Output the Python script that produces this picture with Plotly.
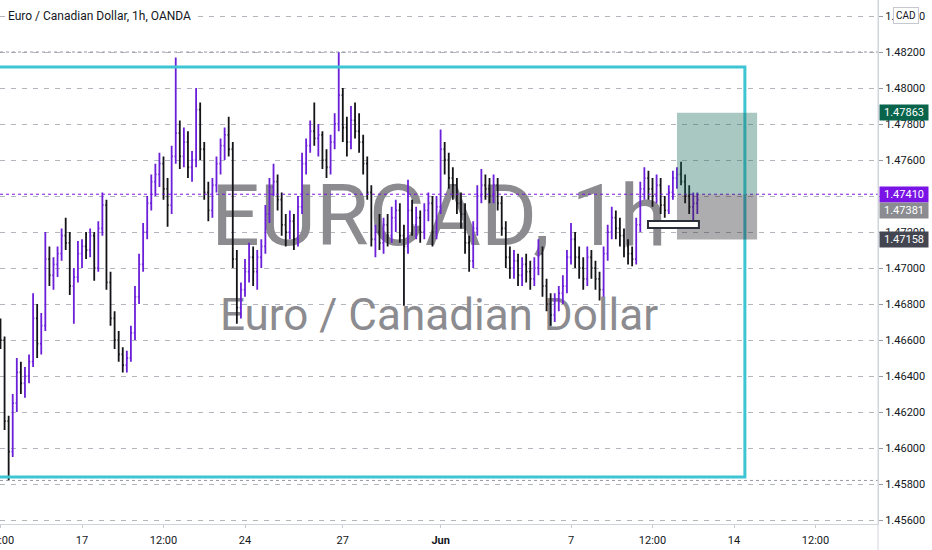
import numpy as np
import pandas as pd
import plotly.graph_objects as go

# EUR/CAD 3-hour bars (Wed 12 May 12:00 onwards)
opens = [
    1.4668, 1.4660, 1.4615, 1.4598, 1.4625, 1.4642, 1.4636, 1.4640, 1.4648, 1.4672,
    1.4658, 1.4668, 1.4705, 1.4696, 1.4702, 1.4708, 1.4718, 1.4714, 1.4690, 1.4695,
    1.4708, 1.4712, 1.4710, 1.4718, 1.4700, 1.4722, 1.4735, 1.4692, 1.4672, 1.4660,
    1.4652, 1.4646, 1.4650, 1.4664, 1.4684, 1.4702, 1.4720, 1.4736, 1.4748, 1.4752,
    1.4758, 1.4744, 1.4735, 1.4762, 1.4775, 1.4762, 1.4770, 1.4756, 1.4760, 1.4788,
    1.4766, 1.4742, 1.4732, 1.4746, 1.4758, 1.4768, 1.4774, 1.4766, 1.4705, 1.4678,
    1.4688, 1.4698, 1.4706, 1.4698, 1.4706, 1.4712, 1.4730, 1.4745, 1.4748, 1.4738,
    1.4724, 1.4720, 1.4726, 1.4716, 1.4734, 1.4758, 1.4768, 1.4776, 1.4772, 1.4774,
    1.4760, 1.4756, 1.4770, 1.4780, 1.4796, 1.4778, 1.4770, 1.4782, 1.4776, 1.4770,
    1.4758, 1.4742, 1.4716, 1.4720, 1.4714, 1.4724, 1.4718, 1.4728, 1.4732, 1.4718,
    1.4712, 1.4732, 1.4724, 1.4728, 1.4720, 1.4732, 1.4736, 1.4720, 1.4734, 1.4766,
    1.4760, 1.4750, 1.4746, 1.4736, 1.4730, 1.4714, 1.4704, 1.4722, 1.4740, 1.4746,
    1.4744, 1.4740, 1.4746, 1.4736, 1.4722, 1.4706, 1.4700, 1.4704, 1.4696, 1.4702,
    1.4698, 1.4694, 1.4700, 1.4708, 1.4690, 1.4680, 1.4674, 1.4682, 1.4686, 1.4690,
    1.4706, 1.4716, 1.4706, 1.4700, 1.4694, 1.4706, 1.4700, 1.4694, 1.4688, 1.4708,
    1.4720, 1.4728, 1.4722, 1.4718, 1.4712, 1.4708, 1.4705, 1.4724, 1.4744, 1.4750,
    1.4744, 1.4740, 1.4746, 1.4735, 1.4732, 1.4742, 1.4750, 1.4752, 1.4748, 1.4740,
    1.4734, 1.4736,
]
highs = [
    1.4672, 1.4662, 1.4618, 1.4630, 1.4650, 1.4648, 1.4645, 1.4652, 1.4686, 1.4680,
    1.4675, 1.4720, 1.4712, 1.4706, 1.4712, 1.4722, 1.4728, 1.4720, 1.4700, 1.4715,
    1.4716, 1.4720, 1.4722, 1.4720, 1.4726, 1.4742, 1.4738, 1.4698, 1.4676, 1.4665,
    1.4656, 1.4654, 1.4668, 1.4690, 1.4708, 1.4725, 1.4740, 1.4752, 1.4758, 1.4764,
    1.4762, 1.4750, 1.4768, 1.4817, 1.4782, 1.4778, 1.4776, 1.4765, 1.4800, 1.4792,
    1.4770, 1.4748, 1.4750, 1.4762, 1.4772, 1.4778, 1.4784, 1.4770, 1.4710, 1.4692,
    1.4705, 1.4714, 1.4712, 1.4710, 1.4716, 1.4735, 1.4750, 1.4758, 1.4752, 1.4742,
    1.4730, 1.4732, 1.4730, 1.4740, 1.4764, 1.4772, 1.4782, 1.4792, 1.4780, 1.4776,
    1.4766, 1.4774, 1.4786, 1.4820, 1.4800, 1.4784, 1.4790, 1.4792, 1.4786, 1.4774,
    1.4762, 1.4746, 1.4724, 1.4730, 1.4728, 1.4730, 1.4734, 1.4738, 1.4736, 1.4724,
    1.4749, 1.4738, 1.4734, 1.4732, 1.4736, 1.4742, 1.4740, 1.4740, 1.4777, 1.4770,
    1.4764, 1.4756, 1.4750, 1.4742, 1.4736, 1.4718, 1.4726, 1.4746, 1.4755, 1.4752,
    1.4750, 1.4752, 1.4750, 1.4740, 1.4726, 1.4712, 1.4710, 1.4708, 1.4706, 1.4708,
    1.4704, 1.4706, 1.4716, 1.4712, 1.4694, 1.4686, 1.4686, 1.4690, 1.4696, 1.4710,
    1.4725, 1.4720, 1.4712, 1.4706, 1.4712, 1.4710, 1.4704, 1.4698, 1.4712, 1.4724,
    1.4734, 1.4732, 1.4728, 1.4722, 1.4716, 1.4712, 1.4728, 1.4748, 1.4756, 1.4754,
    1.4750, 1.4752, 1.4750, 1.4740, 1.4746, 1.4754, 1.4756, 1.4759, 1.4752, 1.4746,
    1.4742, 1.4742,
]
lows = [
    1.4655, 1.4610, 1.4582, 1.4595, 1.4620, 1.4630, 1.4628, 1.4636, 1.4645, 1.4650,
    1.4652, 1.4665, 1.4690, 1.4688, 1.4695, 1.4704, 1.4710, 1.4685, 1.4669, 1.4692,
    1.4700, 1.4705, 1.4706, 1.4693, 1.4698, 1.4718, 1.4688, 1.4668, 1.4655, 1.4648,
    1.4642, 1.4642, 1.4648, 1.4660, 1.4680, 1.4698, 1.4716, 1.4732, 1.4740, 1.4745,
    1.4738, 1.4723, 1.4730, 1.4758, 1.4755, 1.4756, 1.4750, 1.4748, 1.4756, 1.4760,
    1.4738, 1.4726, 1.4728, 1.4742, 1.4752, 1.4760, 1.4762, 1.4700, 1.4669, 1.4672,
    1.4684, 1.4692, 1.4690, 1.4688, 1.4700, 1.4708, 1.4725, 1.4740, 1.4732, 1.4718,
    1.4712, 1.4716, 1.4710, 1.4712, 1.4730, 1.4752, 1.4764, 1.4768, 1.4762, 1.4755,
    1.4750, 1.4752, 1.4766, 1.4776, 1.4770, 1.4762, 1.4766, 1.4772, 1.4764, 1.4752,
    1.4738, 1.4712, 1.4706, 1.4710, 1.4708, 1.4712, 1.4714, 1.4720, 1.4714, 1.4679,
    1.4708, 1.4718, 1.4716, 1.4714, 1.4716, 1.4726, 1.4712, 1.4716, 1.4730, 1.4752,
    1.4744, 1.4738, 1.4730, 1.4722, 1.4708, 1.4698, 1.4700, 1.4718, 1.4736, 1.4738,
    1.4736, 1.4736, 1.4732, 1.4718, 1.4700, 1.4694, 1.4694, 1.4690, 1.4690, 1.4692,
    1.4688, 1.4690, 1.4696, 1.4684, 1.4676, 1.4668, 1.4670, 1.4676, 1.4680, 1.4686,
    1.4702, 1.4700, 1.4694, 1.4688, 1.4690, 1.4694, 1.4688, 1.4682, 1.4684, 1.4704,
    1.4716, 1.4716, 1.4712, 1.4706, 1.4702, 1.4701, 1.4702, 1.4720, 1.4738, 1.4738,
    1.4734, 1.4736, 1.4730, 1.4728, 1.4730, 1.4738, 1.4744, 1.4746, 1.4736, 1.4730,
    1.4726, 1.4730,
]
closes = [
    1.4660, 1.4615, 1.4598, 1.4625, 1.4642, 1.4636, 1.4640, 1.4648, 1.4672, 1.4658,
    1.4668, 1.4705, 1.4696, 1.4702, 1.4708, 1.4718, 1.4714, 1.4690, 1.4695, 1.4708,
    1.4712, 1.4710, 1.4718, 1.4700, 1.4722, 1.4735, 1.4692, 1.4672, 1.4660, 1.4652,
    1.4646, 1.4650, 1.4664, 1.4684, 1.4702, 1.4720, 1.4736, 1.4748, 1.4752, 1.4758,
    1.4744, 1.4735, 1.4762, 1.4775, 1.4762, 1.4770, 1.4756, 1.4760, 1.4788, 1.4766,
    1.4742, 1.4732, 1.4746, 1.4758, 1.4768, 1.4774, 1.4766, 1.4705, 1.4678, 1.4688,
    1.4698, 1.4706, 1.4698, 1.4706, 1.4712, 1.4730, 1.4745, 1.4748, 1.4738, 1.4724,
    1.4720, 1.4726, 1.4716, 1.4734, 1.4758, 1.4768, 1.4776, 1.4772, 1.4774, 1.4760,
    1.4756, 1.4770, 1.4780, 1.4796, 1.4778, 1.4770, 1.4782, 1.4776, 1.4770, 1.4758,
    1.4742, 1.4716, 1.4720, 1.4714, 1.4724, 1.4718, 1.4728, 1.4732, 1.4718, 1.4712,
    1.4732, 1.4724, 1.4728, 1.4720, 1.4732, 1.4736, 1.4720, 1.4734, 1.4766, 1.4760,
    1.4750, 1.4746, 1.4736, 1.4730, 1.4714, 1.4704, 1.4722, 1.4740, 1.4746, 1.4744,
    1.4740, 1.4746, 1.4736, 1.4722, 1.4706, 1.4700, 1.4704, 1.4696, 1.4702, 1.4698,
    1.4694, 1.4700, 1.4708, 1.4690, 1.4680, 1.4674, 1.4682, 1.4686, 1.4690, 1.4706,
    1.4716, 1.4706, 1.4700, 1.4694, 1.4706, 1.4700, 1.4694, 1.4688, 1.4708, 1.4720,
    1.4728, 1.4722, 1.4718, 1.4712, 1.4708, 1.4705, 1.4724, 1.4744, 1.4750, 1.4744,
    1.4740, 1.4746, 1.4735, 1.4732, 1.4742, 1.4750, 1.4752, 1.4748, 1.4740, 1.4734,
    1.4736, 1.4738,
]

START = pd.Timestamp("2021-05-12 12:00")

# bar times: every 3 hours, weekends skipped
times = pd.date_range(START, "2021-06-12", freq="3h")
times = times[times.dayofweek < 5][:len(closes)]

tick_dates = ["2021-05-12 12:00", "2021-05-17", "2021-05-19 12:00", "2021-05-24", "2021-05-27",
              "2021-06-01", "2021-06-07", "2021-06-09 12:00", "2021-06-14", "2021-06-16 12:00"]
tick_text = ["12:00", "17", "12:00", "24", "27", "<b>Jun</b>", "7", "12:00", "14", "12:00"]

price_ticks = [1.456, 1.458, 1.460, 1.462, 1.464, 1.466, 1.468, 1.470, 1.472,
               1.474, 1.476, 1.478, 1.480, 1.482, 1.484]

view_dates = ["2021-05-12 11:38", "2021-06-18 10:00"]
y_range = [1.45578, 1.48489]

# drawings
range_box = ["2021-05-10", "2021-06-14 08:00", 1.45839, 1.48117]
position_x = ["2021-06-10 06:00", "2021-06-14 17:00"]
entry, target, stop = 1.47410, 1.47863, 1.47158
last_close = 1.47381
zone_box = ["2021-06-09 08:40", "2021-06-10 22:10", 1.47222, 1.47261]
level_lines = [1.4820, 1.4582]
watermark_at = "2021-05-31 22:48"

# (price, text, colour, vertical nudge in px so labels do not collide)
price_labels = [
    (target, "1.47863", "#08654c", 0),
    (entry, "1.47410", "#7a14e6", 0),
    (last_close, "1.47381", "#8b8c91", -11),
    (stop, "1.47158", "#434651", 0),
]


def tpos(d):
    # trading-hours position (weekends squeezed out, like the TradingView time scale)
    t = pd.Timestamp(d)
    days = np.busday_count(START.date(), t.date())
    return float(days * 24 + t.hour + t.minute / 60 - START.hour)


bar_x = [tpos(t) for t in times]
x_range = [tpos(d) for d in view_dates]

fig = go.Figure()

# watermark on the base axes, bars on an overlaid pair so they draw on top
fig.add_trace(go.Scatter(
    x=[tpos(watermark_at)] * 2, y=[1.47250, 1.46715],
    mode="text", text=["EURCAD, 1h", "Euro / Canadian Dollar"],
    textfont=dict(family="Roboto", size=[86, 44], color="#8c8c90"),
    hoverinfo="skip", showlegend=False,
))

fig.add_trace(go.Ohlc(
    x=bar_x, open=opens, high=highs, low=lows, close=closes,
    xaxis="x2", yaxis="y2",
    increasing=dict(line=dict(color="#6b1fd9", width=1.8)),
    decreasing=dict(line=dict(color="#141418", width=1.8)),
    tickwidth=0.3, showlegend=False, hoverinfo="skip",
))

# dotted levels across the pane
for lv in level_lines:
    fig.add_shape(type="line", xref="paper", x0=0, x1=1, y0=lv, y1=lv,
                  line=dict(color="#9598a1", width=1, dash="dot"))
fig.add_shape(type="line", xref="paper", x0=0, x1=1, y0=entry, y1=entry,
              line=dict(color="#7a14e6", width=1, dash="dot"))

# cyan range box
fig.add_shape(type="rect", x0=tpos(range_box[0]), x1=tpos(range_box[1]),
              y0=range_box[2], y1=range_box[3], line=dict(color="#3ec5d3", width=3))

# long position tool
fig.add_shape(type="rect", x0=tpos(position_x[0]), x1=tpos(position_x[1]), y0=entry, y1=target,
              fillcolor="rgba(30,110,95,0.38)", line=dict(width=0))
fig.add_shape(type="rect", x0=tpos(position_x[0]), x1=tpos(position_x[1]), y0=stop, y1=entry,
              fillcolor="rgba(40,40,46,0.38)", line=dict(width=0))

# small zone rectangle
fig.add_shape(type="rect", x0=tpos(zone_box[0]), x1=tpos(zone_box[1]),
              y0=zone_box[2], y1=zone_box[3],
              fillcolor="white", line=dict(color="#2a2e39", width=2))

# price scale border running down to the bottom
fig.add_shape(type="line", xref="paper", yref="paper", x0=1, x1=1, y0=-0.06, y1=1,
              line=dict(color="#d1d4dc", width=1))

for val, txt, col, nudge in price_labels:
    fig.add_annotation(xref="paper", x=1, xanchor="left", xshift=1, y=val, yanchor="middle",
                       yshift=nudge, text=txt, showarrow=False, bgcolor=col, width=46, height=13,
                       font=dict(family="Roboto", size=11, color="white"))

fig.add_annotation(xref="paper", yref="paper", x=1, y=1, xanchor="left", yanchor="top",
                   xshift=15, yshift=-7, text="CAD", showarrow=False, bgcolor="white",
                   bordercolor="#c5c8ce", borderwidth=1, borderpad=2,
                   font=dict(family="Roboto", size=10, color="#131722"))

fig.add_annotation(xref="paper", yref="paper", x=0, y=1, xanchor="left", yanchor="middle",
                   xshift=6, yshift=-16, text="Euro / Canadian Dollar, 1h, OANDA",
                   showarrow=False, bgcolor="white",
                   font=dict(family="Roboto", size=12, color="#131722"))

fig.update_layout(
    width=932, height=550,
    margin=dict(l=0, r=54, t=0, b=26),
    paper_bgcolor="white", plot_bgcolor="white",
    showlegend=False,
    font=dict(family="Roboto", size=11, color="#131722"),
    xaxis=dict(
        range=x_range,
        tickvals=[tpos(d) for d in tick_dates], ticktext=tick_text, ticklabeloverflow="allow",
        ticks="outside", ticklen=3, tickcolor="#c8cad0", ticklabelstandoff=3,
        showgrid=False, zeroline=False, showline=True, linecolor="#d1d4dc",
        automargin=False, fixedrange=True,
    ),
    yaxis=dict(
        side="right", range=y_range,
        tickvals=price_ticks, tickformat=".5f",
        ticks="outside", ticklen=4, tickcolor="#9598a1",
        showgrid=True, gridcolor="#b4b6bd", griddash="5px,6px", gridwidth=1,
        zeroline=False, showline=True, linecolor="#d1d4dc",
        automargin=False,
    ),
    xaxis2=dict(range=x_range, overlaying="x", visible=False,
                rangeslider=dict(visible=False), automargin=False),
    yaxis2=dict(range=y_range, overlaying="y", side="right", visible=False, automargin=False),
)

fig.write_html("out.html", config={"displayModeBar": False},
               post_script="document.body.style.margin='0';document.body.style.overflow='hidden';")
